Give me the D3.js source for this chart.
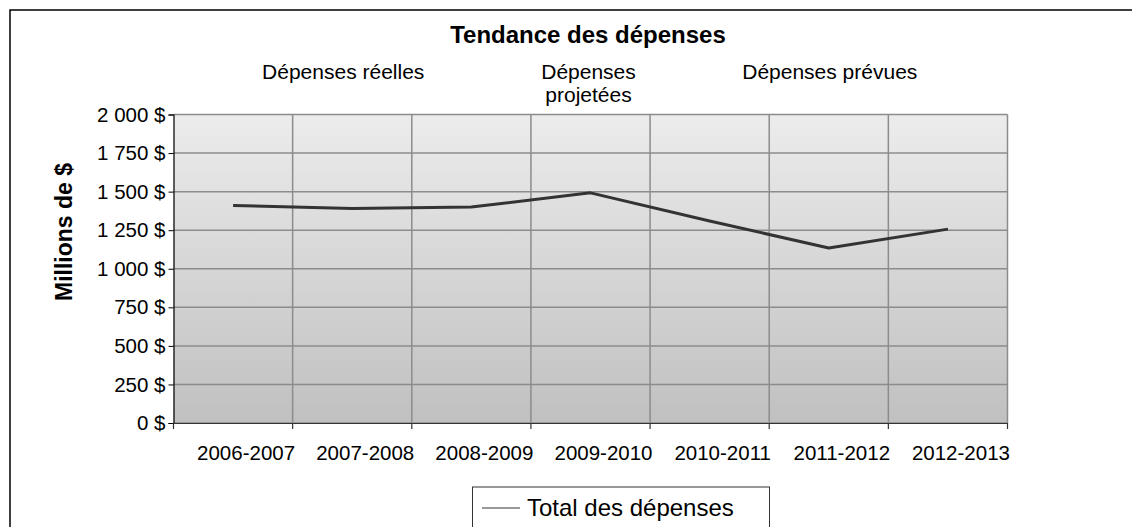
<!DOCTYPE html>
<html><head><meta charset="utf-8">
<script src="https://cdn.jsdelivr.net/npm/d3@7"></script>
<style>
html,body{margin:0;padding:0;background:#fff;}
svg text{font-family:"Liberation Sans",Arial,sans-serif;fill:#000;}
</style></head>
<body><svg id="chart" width="1132" height="527"></svg>
<script>
const categories = ["2006-2007","2007-2008","2008-2009","2009-2010","2010-2011","2011-2012","2012-2013"];
const totalDepenses = [1410, 1390, 1400, 1492, 1310, 1134, 1257];
const yTicks = [0, 250, 500, 750, 1000, 1250, 1500, 1750, 2000];
const phases = [
  {lines:["Dépenses réelles"], from:"2006-2007", to:"2008-2009"},
  {lines:["Dépenses","projetées"], from:"2009-2010", to:"2009-2010"},
  {lines:["Dépenses prévues"], from:"2010-2011", to:"2012-2013"}
];
const title = "Tendance des dépenses";
const yTitle = "Millions de $";
const seriesName = "Total des dépenses";

const svg = d3.select("#chart");
const L = 173.5, R = 1007.5, T = 114.5, B = 423;

// outer frame
svg.append("rect").attr("x",10).attr("y",10).attr("width",1200).attr("height",600)
  .attr("fill","none").attr("stroke","#000").attr("stroke-width",1.5);

const x = d3.scaleBand().domain(categories).range([L,R]).padding(0);
const y = d3.scaleLinear().domain([0,2000]).range([B,T]);

const defs = svg.append("defs");
const g = defs.append("linearGradient").attr("id","bg").attr("x1",0).attr("y1",0).attr("x2",0).attr("y2",1);
g.append("stop").attr("offset","0%").attr("stop-color","#ececec");
g.append("stop").attr("offset","100%").attr("stop-color","#c0c0c0");

svg.append("rect").attr("x",L).attr("y",T).attr("width",R-L).attr("height",B-T).attr("fill","url(#bg)");

// horizontal grid
svg.append("g").selectAll("line").data(yTicks).join("line")
  .attr("x1",L).attr("x2",R).attr("y1",d=>y(d)).attr("y2",d=>y(d))
  .attr("stroke","#8c8c8c").attr("stroke-width",1.5);
// vertical grid at category boundaries
const bounds = categories.slice(1).map(c=>x(c)).concat([R]);
svg.append("g").selectAll("line").data(bounds).join("line")
  .attr("x1",d=>d).attr("x2",d=>d).attr("y1",T).attr("y2",B)
  .attr("stroke","#8c8c8c").attr("stroke-width",1.5);

// y axis
const fmt = v => d3.format(",")(v).replace(/,/g," ") + " $";
const yAxis = svg.append("g").attr("transform",`translate(${L},0)`)
  .call(d3.axisLeft(y).tickValues(yTicks).tickFormat(fmt).tickSize(5).tickPadding(3));
yAxis.select(".domain").attr("stroke","#000").attr("stroke-width",1.2);
yAxis.selectAll(".tick line").attr("stroke","#000");
yAxis.selectAll("text").attr("font-size","20.5px").attr("fill","#000")
  .attr("font-family","Liberation Sans, Arial, sans-serif");

// x axis
const xAxis = svg.append("g").attr("transform",`translate(0,${B})`)
  .call(d3.axisBottom(x).tickSize(0).tickPadding(0));
xAxis.select(".domain").attr("stroke","#333").attr("stroke-width",1.2);
xAxis.selectAll(".tick text").attr("font-size","20.5px").attr("fill","#000")
  .attr("font-family","Liberation Sans, Arial, sans-serif")
  .attr("dy",null).attr("y",37).attr("dx",13);
svg.append("g").selectAll("line").data([L].concat(bounds)).join("line")
  .attr("x1",d=>d).attr("x2",d=>d).attr("y1",B).attr("y2",B+6)
  .attr("stroke","#333").attr("stroke-width",1.2);

// data line
const line = d3.line().x((d,i)=>x(categories[i])+x.bandwidth()/2).y(d=>y(d));
svg.append("path").datum(totalDepenses).attr("d",line)
  .attr("fill","none").attr("stroke","#333").attr("stroke-width",3).attr("stroke-linejoin","round");

// title
svg.append("text").attr("x",588).attr("y",42.5).attr("text-anchor","middle")
  .attr("font-size","24px").attr("font-weight","bold").text(title);

// phase annotations
const phaseDx = [-7, 0, 3];
phases.forEach((p,k)=>{
  const cx = (x(p.from) + x(p.to) + x.bandwidth())/2 - 2 + phaseDx[k];
  const t = svg.append("text").attr("x",cx).attr("y",79).attr("text-anchor","middle").attr("font-size","21px");
  p.lines.forEach((ln,i)=>t.append("tspan").attr("x",cx).attr("dy",i===0?0:23).text(ln));
});

// y title
svg.append("text").attr("transform","translate(72,232) rotate(-90)").attr("text-anchor","middle")
  .attr("font-size","23px").attr("font-weight","bold").text(yTitle);

// legend
const lg = svg.append("g");
lg.append("rect").attr("x",472.5).attr("y",487).attr("width",297).attr("height",50)
  .attr("fill","#fff").attr("stroke","#333").attr("stroke-width",1);
lg.append("line").attr("x1",482).attr("x2",520).attr("y1",508).attr("y2",508).attr("stroke","#333").attr("stroke-width",1);
lg.append("text").attr("x",527).attr("y",515.5).attr("font-size","24px").text(seriesName);
</script></body></html>
